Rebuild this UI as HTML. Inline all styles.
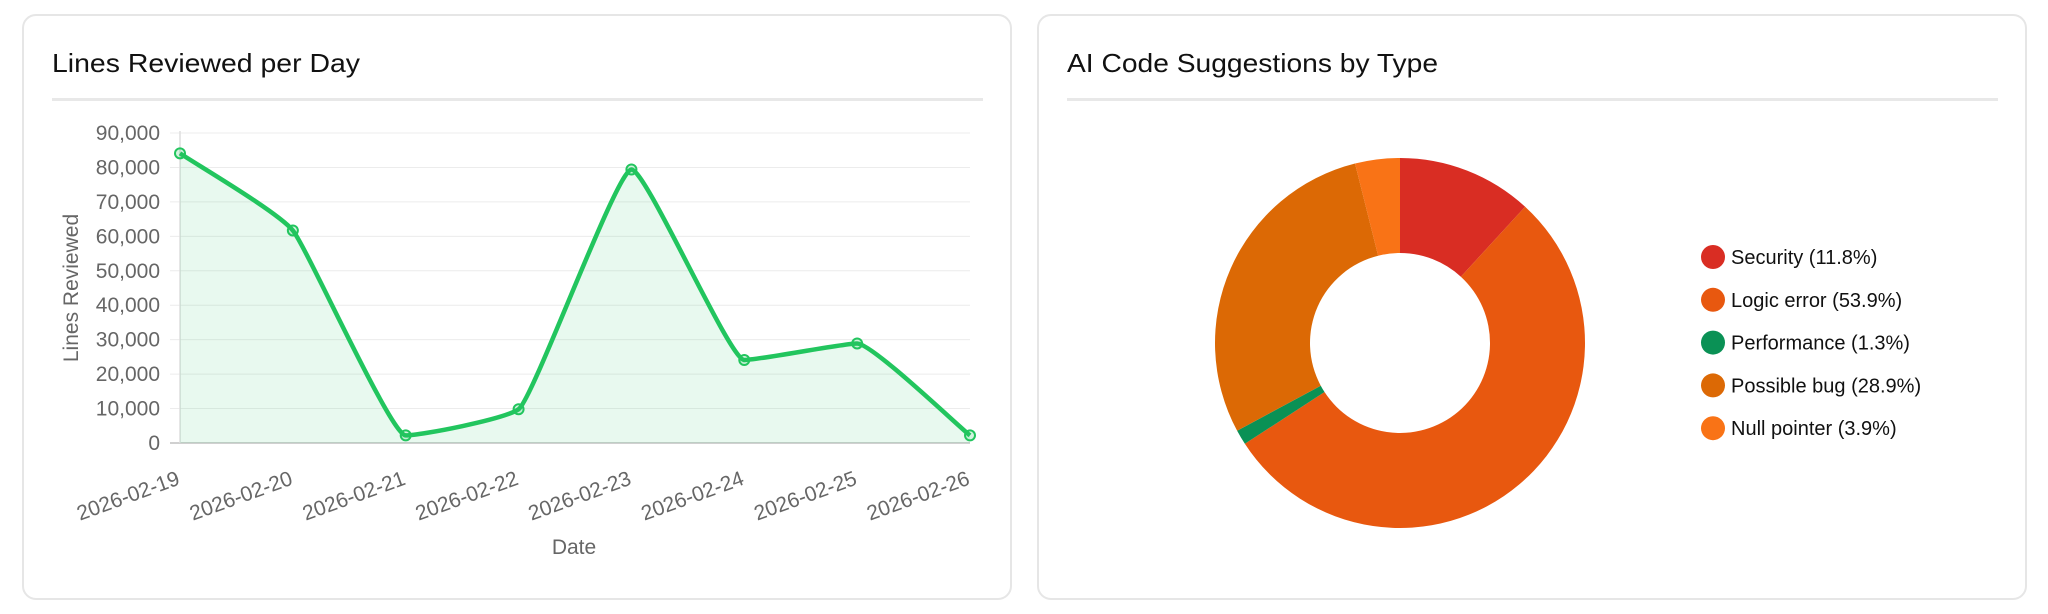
<!DOCTYPE html>
<html><head><meta charset="utf-8">
<style>
html,body{margin:0;padding:0;background:#fff;width:2048px;height:614px;overflow:hidden;font-family:"Liberation Sans",sans-serif;}
.card{position:absolute;top:14px;height:586px;border:2px solid #e6e6e6;border-radius:14px;box-sizing:border-box;background:#fff;}
.rule{position:absolute;top:98px;height:3px;background:#e8e8e8;}
svg{position:absolute;left:0;top:0;}
</style></head><body>
<div class="card" style="left:22px;width:990px;"></div>
<div class="rule" style="left:52px;width:931px;"></div>
<div class="card" style="left:1037px;width:990px;"></div>
<div class="rule" style="left:1067px;width:931px;"></div>
<svg id="chart" width="2048" height="614">
<text x="52" y="72" font-size="26" fill="#111" textLength="308" lengthAdjust="spacingAndGlyphs">Lines Reviewed per Day</text>
<text x="1067" y="72" font-size="26" fill="#111" textLength="371" lengthAdjust="spacingAndGlyphs">AI Code Suggestions by Type</text>
</svg>
<script>
const dates=["2026-02-19","2026-02-20","2026-02-21","2026-02-22","2026-02-23","2026-02-24","2026-02-25","2026-02-26"];
const lines=[84100,61700,2200,9800,79400,24100,28900,2200];
const yTicks=[0,10000,20000,30000,40000,50000,60000,70000,80000,90000];
const sliceLabels=["Security","Logic error","Performance","Possible bug","Null pointer"];
const slicePct=[11.8,53.9,1.3,28.9,3.9];
const sliceColors=["#d92d23","#e8580f","#0a9155","#dc6905","#f97316"];
const NS="http://www.w3.org/2000/svg";
const svg=document.getElementById('chart');
function mk(t,a,p){const e=document.createElementNS(NS,t);for(const k in a)e.setAttribute(k,a[k]);(p||svg).appendChild(e);return e;}
const x0=180,x1=970,yTop=133,yBot=443,yMax=90000;
const xs=i=>x0+(x1-x0)*i/(dates.length-1);
const ys=v=>yBot-(yBot-yTop)*v/yMax;
yTicks.forEach(t=>{
  const g=mk('line',{x1:x0-10,x2:x1,y1:ys(t),y2:ys(t),stroke:t===0?'#d0d0d0':'#ececec','stroke-width':t===0?2:1});
  
  
  const l=mk('text',{x:160,y:ys(t)+7,'text-anchor':'end','font-size':21,fill:'#666'});
  l.textContent=t.toLocaleString('en-US');
  
  
});
mk('line',{x1:x0,x2:x0,y1:yTop-2,y2:yBot,stroke:'#dedede','stroke-width':1.5});
const pts=lines.map((v,i)=>[xs(i),ys(v)]);
const n=pts.length,dx=[],m=[],tg=[];
for(let i=0;i<n-1;i++){dx[i]=pts[i+1][0]-pts[i][0];m[i]=(pts[i+1][1]-pts[i][1])/dx[i];}
tg[0]=m[0];tg[n-1]=m[n-2];
for(let i=1;i<n-1;i++){tg[i]=(m[i-1]*m[i]<=0)?0:(m[i-1]+m[i])/2;}
for(let i=0;i<n-1;i++){if(m[i]===0){tg[i]=tg[i+1]=0;continue;}const a=tg[i]/m[i],b=tg[i+1]/m[i],s=a*a+b*b;if(s>9){const t=3/Math.sqrt(s);tg[i]=t*a*m[i];tg[i+1]=t*b*m[i];}}
let d='M'+pts[0][0]+','+pts[0][1];
for(let i=0;i<n-1;i++){
  const h=dx[i]*0.13;
  d+=' C'+(pts[i][0]+h)+','+(pts[i][1]+tg[i]*h)+' '+(pts[i+1][0]-h)+','+(pts[i+1][1]-tg[i+1]*h)+' '+pts[i+1][0]+','+pts[i+1][1];
}
const area=mk('path',{d:d+' L'+pts[n-1][0]+','+yBot+' L'+pts[0][0]+','+yBot+' Z',fill:'rgba(34,197,94,0.1)'});


const ln=mk('path',{d:d,fill:'none',stroke:'#22c55e','stroke-width':4.5,'stroke-linejoin':'round'});


pts.forEach((p,i)=>{
  const c=mk('circle',{cx:p[0],cy:p[1],r:5,fill:'rgba(34,197,94,0.2)',stroke:'#22c55e','stroke-width':2});
  
  
  const t=mk('text',{x:0,y:0,'text-anchor':'end','font-size':21,fill:'#666',transform:'translate('+(p[0]+1)+',484) rotate(-20)'});
  t.textContent=dates[i];
  
  
});
const xt=mk('text',{x:574,y:554,'text-anchor':'middle','font-size':21,fill:'#666'});xt.textContent='Date';


const yt=mk('text',{x:0,y:0,'text-anchor':'middle','font-size':21,fill:'#666',transform:'translate(78,288) rotate(-90)'});yt.textContent='Lines Reviewed';


const cx=1400,cy=343,R=185,r=90;
const total=slicePct.reduce((a,b)=>a+b,0);
let a0=-Math.PI/2;
slicePct.forEach((v,i)=>{
  const a1=a0+2*Math.PI*v/total,lg=(a1-a0)>Math.PI?1:0;
  const P=(rad,a)=>(cx+rad*Math.cos(a))+','+(cy+rad*Math.sin(a));
  const s=mk('path',{d:'M'+P(R,a0)+' A'+R+','+R+' 0 '+lg+' 1 '+P(R,a1)+' L'+P(r,a1)+' A'+r+','+r+' 0 '+lg+' 0 '+P(r,a0)+' Z',fill:sliceColors[i]});
  
  
  a0=a1;
  const ly=257+i*42.8;
  const c=mk('circle',{cx:1713,cy:ly,r:12,fill:sliceColors[i]});
  
  
  const t=mk('text',{x:1731,y:ly+7,'font-size':20,fill:'#111'});
  t.textContent=sliceLabels[i]+' ('+v.toFixed(1)+'%)';
  
  
});
</script>
</body></html>
